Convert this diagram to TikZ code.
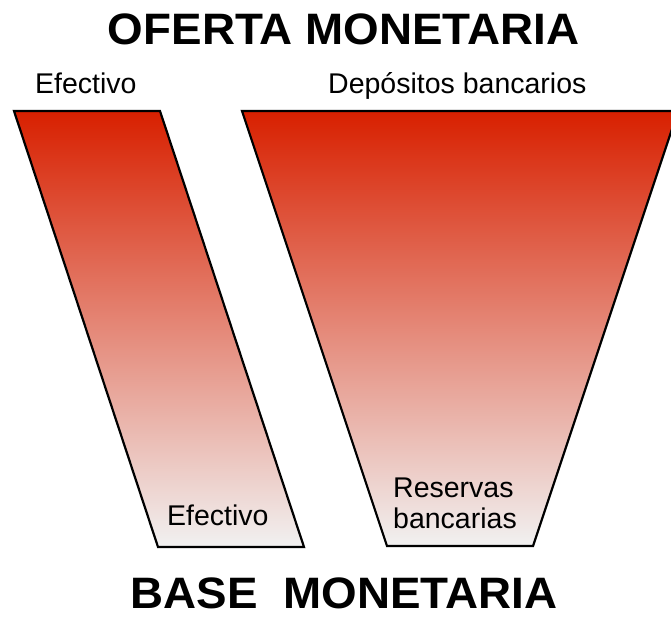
\documentclass[tikz,border=0pt]{standalone}
\usepackage{fontspec}
\setmainfont{Liberation Sans}
\newfontfamily\titlefont[FakeStretch=1.04]{Liberation Sans}
\definecolor{topred}{RGB}{216,32,0}
\definecolor{botgray}{RGB}{241,241,241}
\begin{document}
\begin{tikzpicture}[x=1pt,y=-1pt,
  funnel/.style={draw=black, line width=2.2pt, line join=miter, top color=topred, bottom color=botgray},
  lab/.style={font=\fontsize{28.5}{31}\selectfont, anchor=base west, inner sep=0pt},
  ttl/.style={font=\titlefont\fontsize{44}{48}\selectfont\bfseries, anchor=base, inner sep=0pt}]
\useasboundingbox (0,0) rectangle (671,616);
\clip (0,0) rectangle (671,616);
\fill[white] (0,0) rectangle (671,616);
\coordinate (a1) at (14,111);
\coordinate (a2) at (160,111);
\coordinate (a3) at (304,547);
\coordinate (a4) at (158,547);
\coordinate (b1) at (242,111);
\coordinate (b2) at (678,111);
\coordinate (b3) at (533,546);
\coordinate (b4) at (387,546);
\path[funnel] (a1) -- (a2) -- (a3) -- (a4) -- cycle;
\path[funnel] (b1) -- (b2) -- (b3) -- (b4) -- cycle;
\node[ttl] (oferta) at (343.5,44) {OFERTA MONETARIA};
\node[ttl] (base) at (344,608.5) {BASE\ \ MONETARIA};
\node[lab] (efe1) at (35,93) {Efectivo};
\node[lab] (dep) at (328,93) {Depósitos bancarios};
\node[lab] (efe2) at (167,525) {Efectivo};
\node[lab] (res1) at (393,497) {Reservas};
\node[lab] (res2) at (393,528) {bancarias};
\end{tikzpicture}
\end{document}
